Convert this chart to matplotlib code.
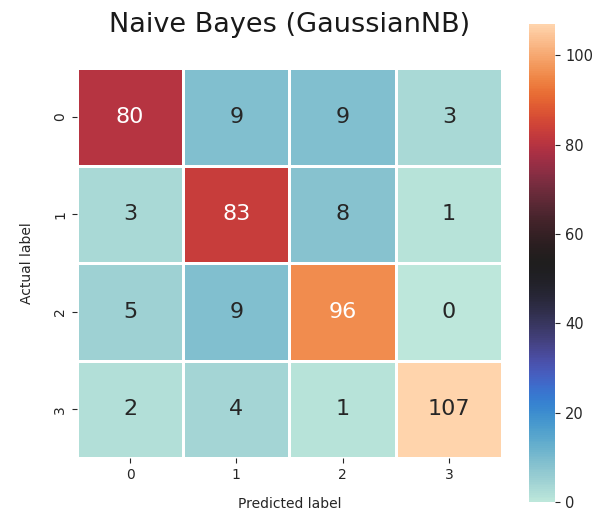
import matplotlib
matplotlib.use('Agg')
import matplotlib.pyplot as plt
import seaborn as sns
import numpy as np

labels = ['0', '1', '2', '3']
row0 = [80, 9, 9, 3]
row1 = [3, 83, 8, 1]
row2 = [5, 9, 96, 0]
row3 = [2, 4, 1, 107]
cm = np.array([row0, row1, row2, row3])

fig = plt.figure(figsize=(5.92, 5.13), dpi=100)
ax = fig.add_axes([0.130, 0.107, 0.718, 0.760])
cax = fig.add_axes([0.894, 0.021, 0.044, 0.932])

sns.heatmap(cm, annot=True, fmt='d', cmap='icefire', linewidths=1, linecolor='white',
            vmin=0, vmax=107, ax=ax, cbar_ax=cax,
            xticklabels=labels, yticklabels=labels,
            annot_kws={'fontsize': 16})

ax.set_title('Naive Bayes (GaussianNB)', fontsize=19.5, pad=26, color='#1a1a1a')
ax.set_xlabel('Predicted label', labelpad=11, color='#262626')
ax.set_ylabel('Actual label', labelpad=14, color='#262626')
ax.tick_params(axis='y', labelrotation=90)
ax.tick_params(colors='#262626')
cax.tick_params(labelsize=10.5, colors='#262626')

plt.savefig('out.png', dpi=100)
